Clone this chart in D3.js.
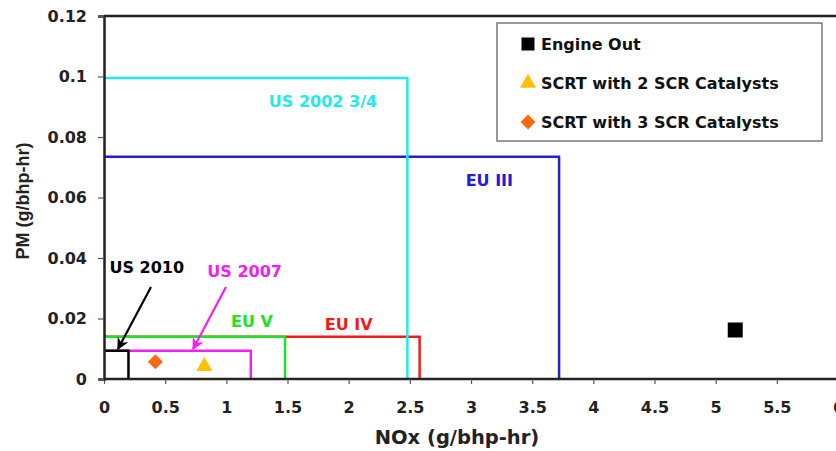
<!DOCTYPE html>
<html>
<head>
<meta charset="utf-8">
<script src="https://cdn.jsdelivr.net/npm/d3@7"></script>
<style>
  body { margin: 0; background: #fff; }
  svg text { font-family: "DejaVu Sans", sans-serif; font-weight: bold; }
</style>
</head>
<body>
<div id="chart"></div>
<script>
// emission standards: NOx limit (x) and PM limit (y), drawn as boxes from the origin
var stdNames  = ["EU III", "EU IV", "EU V", "US 2007", "US 2010", "US 2002 3/4"];
var stdNox    = [3.72, 2.58, 1.48, 1.2, 0.2, 2.48];
var stdPm     = [0.0735, 0.014, 0.014, 0.0093, 0.0093, 0.0995];
var stdColors = ["#2020d8", "#ee1c1c", "#22e022", "#f020f0", "#000000", "#22e8f0"];

// measured points
var ptNames  = ["Engine Out", "SCRT with 2 SCR Catalysts", "SCRT with 3 SCR Catalysts"];
var ptNox    = [5.16, 0.82, 0.42];
var ptPm     = [0.0162, 0.0042, 0.0057];
var ptColors = ["#000000", "#ffc000", "#ff6a10"];

var xTicks = [0, 0.5, 1, 1.5, 2, 2.5, 3, 3.5, 4, 4.5, 5, 5.5, 6];
var yTicks = [0, 0.02, 0.04, 0.06, 0.08, 0.1, 0.12];

var width = 836, height = 451;
var svg = d3.select("#chart").append("svg")
    .attr("width", width)
    .attr("height", height);

var x = d3.scaleLinear().domain([0, 6]).range([104, 838]);
var y = d3.scaleLinear().domain([0, 0.12]).range([379, 16]);

// marker shapes: square, triangle, diamond (square turned 45deg)
function marker(g, i, s) {
    if (i === 0) {
        g.append("path").attr("d", d3.symbol().type(d3.symbolSquare).size(s * s)()).attr("fill", ptColors[i]);
    } else if (i === 1) {
        g.append("path").attr("d", d3.symbol().type(d3.symbolTriangle).size(s * s * 0.5)()).attr("fill", ptColors[i]);
    } else {
        g.append("path").attr("d", d3.symbol().type(d3.symbolSquare).size(s * s * 0.5)())
            .attr("transform", "rotate(45)").attr("fill", ptColors[i]);
    }
}

// top border of plot area
svg.append("line")
    .attr("x1", x(0)).attr("x2", width)
    .attr("y1", y(0.12)).attr("y2", y(0.12))
    .attr("stroke", "#222").attr("stroke-width", 2.5);

// standard boxes
var order = [0, 1, 2, 3, 4, 5];
order.forEach(function (i) {
    var p = d3.path();
    p.moveTo(x(0), y(stdPm[i]));
    p.lineTo(x(stdNox[i]), y(stdPm[i]));
    p.lineTo(x(stdNox[i]), y(0));
    svg.append("path")
        .attr("d", p.toString())
        .attr("fill", "none")
        .attr("stroke", stdColors[i])
        .attr("stroke-width", 2.5);
});

// axes
var xAxis = svg.append("g")
    .attr("transform", "translate(0," + y(0) + ")")
    .call(d3.axisBottom(x).tickValues(xTicks).tickSize(5).tickPadding(18)
        .tickFormat(function (d) { return d; }));
var yAxis = svg.append("g")
    .attr("transform", "translate(" + x(0) + ",0)")
    .call(d3.axisLeft(y).tickValues(yTicks).tickSize(6).tickPadding(11)
        .tickFormat(function (d) { return d; }));
[xAxis, yAxis].forEach(function (g) {
    g.select(".domain").attr("stroke", "#222").attr("stroke-width", 2.5);
    g.selectAll(".tick line").attr("stroke", "#555").attr("stroke-width", 1.2);
    g.selectAll(".tick text")
        .attr("fill", "#222")
        .style("font-size", "16px")
        .style("font-family", "DejaVu Sans, sans-serif")
        .style("font-weight", "bold");
});
xAxis.select(".domain").attr("d", "M" + x(0) + ",0H" + width);

// axis titles
svg.append("text")
    .attr("x", 457).attr("y", 444)
    .attr("text-anchor", "middle")
    .attr("fill", "#222")
    .style("font-size", "19.5px")
    .text("NOx (g/bhp-hr)");
svg.append("text")
    .attr("transform", "translate(29,201) rotate(-90)")
    .attr("text-anchor", "middle")
    .attr("fill", "#222")
    .style("font-family", "Liberation Sans, Arial, sans-serif")
    .style("font-size", "18px")
    .text("PM (g/bhp-hr)");

// standard labels
var labelPos = [[3.15, 0.0637], [2.0, 0.0162], [1.21, 0.0172], [1.15, 0.0337], [0.35, 0.0350], [1.79, 0.0900]];
order.forEach(function (i) {
    svg.append("text")
        .attr("x", x(labelPos[i][0])).attr("y", y(labelPos[i][1]))
        .attr("text-anchor", "middle")
        .attr("fill", stdColors[i])
        .style("font-size", "16px")
        .text(stdNames[i]);
});

// arrows
var defs = svg.append("defs");
[["ahBlack", "#000"], ["ahMag", "#f020f0"]].forEach(function (m) {
    defs.append("marker")
        .attr("id", m[0])
        .attr("viewBox", "0 0 10 10")
        .attr("refX", 9).attr("refY", 5)
        .attr("markerWidth", 5.5).attr("markerHeight", 5.5)
        .attr("orient", "auto")
        .append("path")
        .attr("d", "M0,0L10,5L0,10L3,5z")
        .attr("fill", m[1]);
});
svg.append("line")
    .attr("x1", x(0.384)).attr("y1", y(0.0304))
    .attr("x2", x(0.114)).attr("y2", y(0.0099))
    .attr("stroke", "#000").attr("stroke-width", 2.2)
    .attr("marker-end", "url(#ahBlack)");
svg.append("line")
    .attr("x1", x(0.997)).attr("y1", y(0.0304))
    .attr("x2", x(0.728)).attr("y2", y(0.0099))
    .attr("stroke", "#f020f0").attr("stroke-width", 2.2)
    .attr("marker-end", "url(#ahMag)");

// measured points
ptNames.forEach(function (n, i) {
    var g = svg.append("g")
        .attr("transform", "translate(" + x(ptNox[i]) + "," + y(ptPm[i]) + ")");
    marker(g, i, 15);
});

// legend
var lg = svg.append("g").attr("transform", "translate(497,23)");
lg.append("rect")
    .attr("width", 325).attr("height", 118)
    .attr("fill", "#fff")
    .attr("stroke", "#777").attr("stroke-width", 1.5);
ptNames.forEach(function (n, i) {
    var row = lg.append("g").attr("transform", "translate(0," + (21 + i * 39) + ")");
    marker(row.append("g").attr("transform", "translate(31,0)"), i, i === 0 ? 13 : 15);
    row.append("text")
        .attr("x", 44).attr("y", 6)
        .attr("fill", "#111")
        .style("font-size", "16px")
        .text(n);
});
</script>
</body>
</html>
